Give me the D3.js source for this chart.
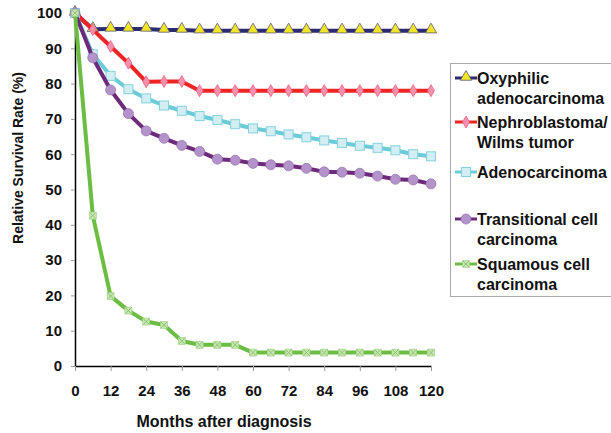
<!DOCTYPE html>
<html>
<head>
<meta charset="utf-8">
<script src="https://cdn.jsdelivr.net/npm/d3@7"></script>
<style>
  html, body { margin: 0; padding: 0; background: #fff; }
  svg { display: block; font-family: "Liberation Sans", Arial, sans-serif; font-weight: bold; }
</style>
</head>
<body>
<div id="chart"></div>
<script>
const months = [0, 6, 12, 18, 24, 30, 36, 42, 48, 54, 60, 66, 72, 78, 84, 90, 96, 102, 108, 114, 120];
const xTicks = [0, 12, 24, 36, 48, 60, 72, 84, 96, 108, 120];
const yTicks = [0, 10, 20, 30, 40, 50, 60, 70, 80, 90, 100];

const oxyphilic = [100, 95.4, 95.5, 95.5, 95.5, 95.2, 95.2, 95, 95, 95, 95, 95, 95, 95, 95, 95, 95, 95, 95, 95, 95];
const nephro = [100, 95.3, 90.5, 85.8, 80.5, 80.6, 80.6, 78, 78, 78, 78, 78, 78, 78, 78, 78, 78, 78, 78, 78, 78];
const adeno = [100, 88.3, 82.2, 78.4, 75.8, 73.8, 72.3, 70.8, 69.7, 68.5, 67.3, 66.5, 65.6, 64.8, 63.9, 63.2, 62.4, 61.8, 61.1, 60.0, 59.4];
const transitional = [100, 87.3, 78.2, 71.5, 66.6, 64.5, 62.5, 60.8, 58.6, 58.3, 57.4, 57.0, 56.7, 56.0, 55.0, 54.9, 54.6, 53.8, 52.9, 52.7, 51.6];
const squamous = [100, 42.6, 19.8, 15.7, 12.6, 11.6, 7.1, 6.0, 6.0, 6.0, 3.8, 3.8, 3.8, 3.8, 3.8, 3.8, 3.8, 3.8, 3.8, 3.8, 3.8];

const seriesNames = [
  ["Oxyphilic", "adenocarcinoma"],
  ["Nephroblastoma/", "Wilms tumor"],
  ["Adenocarcinoma"],
  ["Transitional cell", "carcinoma"],
  ["Squamous cell", "carcinoma"],
];

// styles per series
const styles = [
  { line: "#2b2a72", fill: "#f2e526", stroke: "#5a5a7a", shape: "triangle" },
  { line: "#ee2424", fill: "#f590ae", stroke: "#f06080", shape: "diamond" },
  { line: "#6ccbd8", fill: "#d2eef2", stroke: "#84d2e0", shape: "square" },
  { line: "#6e2a7a", fill: "#b393c9", stroke: "#9a78b4", shape: "circle" },
  { line: "#6cbd44", fill: "#c8e6b2", stroke: "#a0d088", shape: "xbox" },
];

const allSeries = [oxyphilic, nephro, adeno, transitional, squamous];

const W = 611, H = 433;
const svg = d3.select("#chart").append("svg").attr("width", W).attr("height", H);

const x = d3.scaleLinear().domain([0, 120]).range([75, 431]);
const y = d3.scaleLinear().domain([0, 100]).range([366, 13]);

// axes
const yAxis = svg.append("g").attr("transform", `translate(${x(0)},0)`)
  .call(d3.axisLeft(y).tickValues(yTicks).tickSize(4).tickSizeOuter(0).tickPadding(9));
const xAxis = svg.append("g").attr("transform", `translate(0,${y(0)})`)
  .call(d3.axisBottom(x).tickValues(xTicks).tickSize(5).tickSizeOuter(0).tickPadding(14));

[yAxis, xAxis].forEach((g) => {
  g.select(".domain").attr("stroke", "#000").attr("stroke-width", 1.5);
  g.selectAll(".tick line").attr("stroke", "#999").attr("stroke-width", 1);
  g.selectAll(".tick text").attr("fill", "#111").attr("font-size", 15).attr("font-weight", "bold")
    .attr("font-family", "'Liberation Sans', Arial, sans-serif");
});

svg.append("text").attr("x", 224).attr("y", 427).attr("text-anchor", "middle")
  .attr("font-size", 16).attr("fill", "#111").text("Months after diagnosis");
svg.append("text").attr("transform", "translate(23,158) rotate(-90)").attr("text-anchor", "middle")
  .attr("font-size", 14).attr("fill", "#111").text("Relative Survival Rate (%)");

function drawMarker(g, st, cx, cy) {
  if (st.shape === "triangle") {
    g.append("path").attr("d", d3.symbol(d3.symbolTriangle, 55)()).attr("transform", `translate(${cx},${cy - 1})`)
      .attr("fill", st.fill).attr("stroke", st.stroke).attr("stroke-width", 0.8);
  } else if (st.shape === "diamond") {
    g.append("path").attr("d", d3.symbol(d3.symbolDiamond, 42)()).attr("transform", `translate(${cx},${cy})`)
      .attr("fill", st.fill).attr("stroke", st.stroke).attr("stroke-width", 0.8);
  } else if (st.shape === "square") {
    g.append("rect").attr("x", cx - 4.5).attr("y", cy - 4.5).attr("width", 9).attr("height", 9)
      .attr("fill", st.fill).attr("stroke", st.stroke).attr("stroke-width", 1);
  } else if (st.shape === "circle") {
    g.append("circle").attr("cx", cx).attr("cy", cy).attr("r", 5)
      .attr("fill", st.fill).attr("stroke", st.stroke).attr("stroke-width", 0.8);
  } else {
    g.append("rect").attr("x", cx - 3.5).attr("y", cy - 3.5).attr("width", 7).attr("height", 7)
      .attr("fill", st.fill).attr("stroke", st.stroke).attr("stroke-width", 0.6);
    g.append("path").attr("d", `M${cx - 3},${cy - 3}L${cx + 3},${cy + 3}M${cx + 3},${cy - 3}L${cx - 3},${cy + 3}`)
      .attr("stroke", "#7cbc60").attr("stroke-width", 0.8);
  }
}

const line = d3.line().x((d, i) => x(months[i])).y((d) => y(d));

allSeries.forEach((vals, si) => {
  const st = styles[si];
  const g = svg.append("g");
  g.append("path").datum(vals).attr("d", line).attr("fill", "none")
    .attr("stroke", st.line).attr("stroke-width", 4).attr("stroke-linejoin", "round");
  vals.forEach((v, i) => drawMarker(g, st, x(months[i]), y(v)));
});

// legend
const leg = svg.append("g");
leg.append("rect").attr("x", 450.5).attr("y", 63.5).attr("width", 170).attr("height", 233)
  .attr("fill", "#fff").attr("stroke", "#aaa").attr("stroke-width", 1);
const legTops = [78, 122, 172, 219, 264];
seriesNames.forEach((lines, si) => {
  const st = styles[si];
  const cy = legTops[si];
  leg.append("line").attr("x1", 455).attr("x2", 477).attr("y1", cy).attr("y2", cy)
    .attr("stroke", st.line).attr("stroke-width", 3);
  drawMarker(leg, st, 466, cy);
  lines.forEach((t, k) => {
    leg.append("text").attr("x", 477).attr("y", cy + k * 20 + 6)
      .attr("font-size", 16).attr("fill", "#111").text(t);
  });
});
</script>
</body>
</html>
